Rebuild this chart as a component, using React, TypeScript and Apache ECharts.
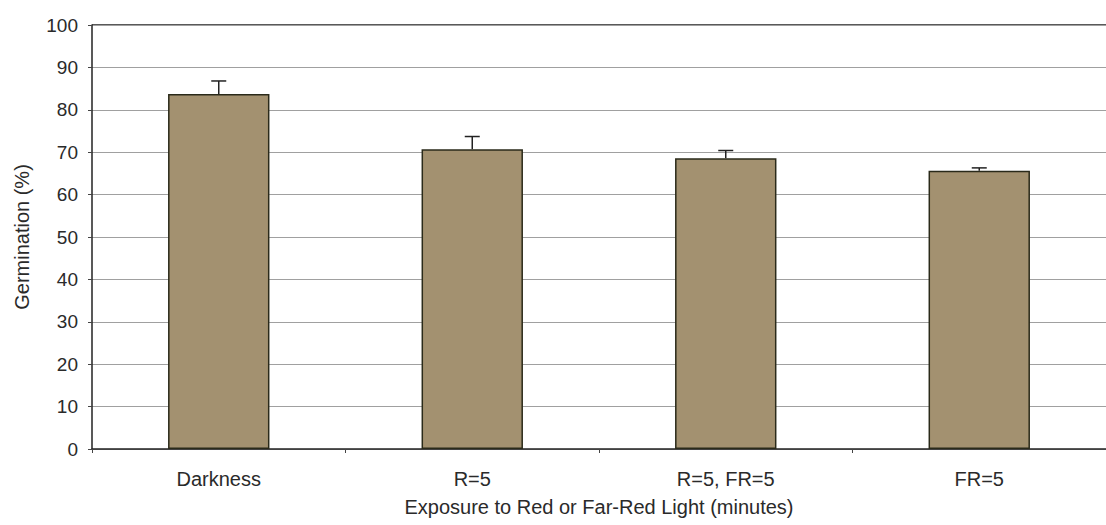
import React, { useEffect, useRef } from "react";
import * as echarts from "echarts";

const categories = ["Darkness", "R=5", "R=5, FR=5", "FR=5"];
const germination = [83.7, 70.7, 68.6, 65.6];
const errorUpper = [86.8, 73.7, 70.4, 66.3];
const yTicks = { min: 0, max: 100, interval: 10 };

export default function App() {
  const ref = useRef<HTMLDivElement>(null);
  useEffect(() => {
    if (!ref.current) return;
    const chart = echarts.init(ref.current, undefined, { renderer: "svg" });
    const font = "Liberation Sans, Arial, sans-serif";
    const txt = "#2a2a2a";
    chart.setOption({
      animation: false,
      backgroundColor: "#ffffff",
      grid: { left: 92, top: 25, width: 1020, bottom: 76, containLabel: false },
      xAxis: {
        type: "category",
        data: categories,
        name: "Exposure to Red or Far-Red Light (minutes)",
        nameLocation: "middle",
        nameGap: 48,
        nameTextStyle: { fontFamily: font, fontSize: 20, color: txt },
        axisLine: { lineStyle: { color: "#222", width: 1.5 } },
        axisTick: { show: true, length: 4, lineStyle: { color: "#444" } },
        axisLabel: { fontFamily: font, fontSize: 20, color: txt, margin: 20 },
      },
      yAxis: {
        type: "value",
        min: yTicks.min,
        max: yTicks.max,
        interval: yTicks.interval,
        name: "Germination (%)",
        nameLocation: "middle",
        nameGap: 60,
        nameTextStyle: { fontFamily: font, fontSize: 20, color: txt },
        axisLine: { show: true, lineStyle: { color: "#222", width: 1.5 } },
        axisTick: { show: true, length: 4, lineStyle: { color: "#444" } },
        axisLabel: { fontFamily: font, fontSize: 19, color: txt, margin: 14 },
        splitLine: { lineStyle: { color: "#a0a0a0", width: 1 } },
      },
      series: [
        {
          type: "custom",
          z: 1,
          data: categories.map((_, i) => [i, germination[i], errorUpper[i]]),
          renderItem: (params: any, api: any) => {
            const x = api.value(0);
            const base = api.coord([x, api.value(1)]);
            const top = api.coord([x, api.value(2)]);
            const half = 7.5;
            return {
              type: "group",
              children: [
                {
                  type: "line",
                  shape: { x1: base[0], y1: base[1], x2: top[0], y2: top[1] },
                  style: { stroke: "#222", lineWidth: 1.5 },
                },
                {
                  type: "line",
                  shape: { x1: top[0] - half, y1: top[1], x2: top[0] + half, y2: top[1] },
                  style: { stroke: "#222", lineWidth: 1.5 },
                },
              ],
            };
          },
        },
        {
          type: "bar",
          z: 2,
          data: germination,
          barWidth: "40%",
          itemStyle: {
            color: "#a39170",
            borderColor: "#2a2a1a",
            borderWidth: 1.5,
          },
        },
      ],
      graphic: [
        {
          type: "line",
          shape: { x1: 92, y1: 25, x2: 1112, y2: 25 },
          style: { stroke: "#222", lineWidth: 1.5 },
        },
      ],
    });
    return () => chart.dispose();
  }, []);
  return <div ref={ref} style={{ width: 1106, height: 525, position: "absolute", left: 0, top: 0 }} />;
}
